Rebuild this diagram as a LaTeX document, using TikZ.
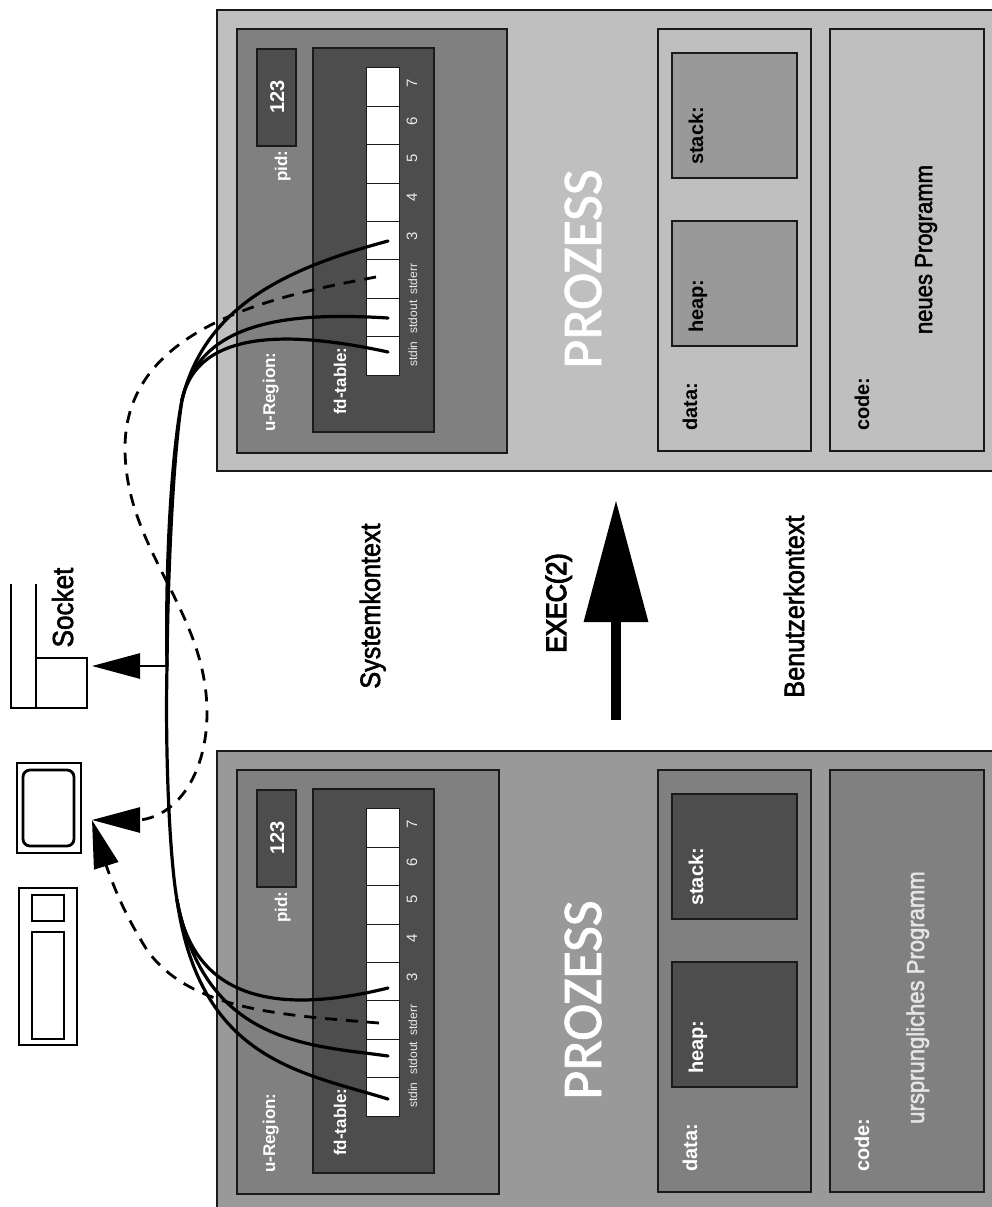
\documentclass[tikz,border=0pt]{standalone}
\usepackage{fontspec}
\setmainfont{Liberation Sans}
\newfontfamily\narrowfont[FakeStretch=0.9,FakeBold=2]{Liberation Sans}
\newfontfamily\execfont[FakeStretch=0.9,FakeBold=4]{Liberation Sans}
\newfontfamily\titlefont[FakeBold=1.5]{Carlito}
\usetikzlibrary{arrows.meta}
\definecolor{gdark}{HTML}{4D4D4D}
\definecolor{gmid}{HTML}{808080}
\definecolor{glight}{HTML}{999999}
\definecolor{gpale}{HTML}{BFBFBF}
\definecolor{gedge}{HTML}{1A1A1A}
\newcommand{\fs}[1]{\fontsize{#1}{#1}\selectfont}
\tikzset{
  pbox/.style={draw=gedge, line width=1.3pt},
  cell/.style={draw=gedge, line width=0.8pt, fill=white, inner sep=0pt, outer sep=0pt, minimum width=33pt, minimum height=38.4pt},
  lab/.style={rotate=90, anchor=base west, inner sep=0pt, font=\fs{20}\bfseries},
  smlab/.style={lab, font=\fs{17}\bfseries, text=white},
  tinylab/.style={rotate=90, anchor=base, inner sep=0pt, font=\fs{12}, text=white!92!black},
  numlab/.style={tinylab, font=\fs{15}},
  biglab/.style={rotate=90, anchor=base, inner sep=0pt, font=\narrowfont\fs{28}},
  ttl/.style={rotate=90, anchor=base, inner sep=0pt, font=\titlefont\fs{56}, text=white},
  cable/.style={line width=3.2pt, line cap=round},
  dcable/.style={line width=2.8pt, dash pattern=on 12pt off 9pt},
  bigtip/.style={-{Triangle[length=48pt,width=25pt]}},
  icon/.style={draw=black, line width=2.8pt},
}
% one process: y shift, prefix, outer, u-region right, data, stack, text, outer bottom
\newcommand{\prozess}[8]{%
  \begin{scope}[shift={(0,#1)}]
    \draw[pbox, fill=#3] (217,10) rectangle (1010,#8);
    \draw[pbox, fill=gmid] (237,29) rectangle (#4,453);
    \draw[pbox, fill=gdark] (257,49) rectangle (296,146);
    \draw[pbox, fill=gdark] (313,48) rectangle (434,432);
    \foreach \i in {0,...,7}
      \node[cell] (#2c\i) at (382.5,{355.8-38.4*\i}) {};
    \node[smlab] (#2reg) at (275,432) {u-Region:};
    \node[smlab] (#2fd) at (346,415) {fd-table:};
    \node[smlab] (#2pid) at (287,182) {pid:};
    \node[rotate=90, anchor=base, inner sep=0pt, font=\fs{20}\bfseries, text=white] (#2num) at (284,97) {123};
    \node[tinylab] (#2in) at (417,354) {stdin};
    \node[tinylab] (#2out) at (417,317) {stdout};
    \node[tinylab] (#2err) at (417,279) {stderr};
    \node[numlab] (#2n3) at (417,236) {3};
    \node[numlab] (#2n4) at (417,197) {4};
    \node[numlab] (#2n5) at (417,158) {5};
    \node[numlab] (#2n6) at (417,121) {6};
    \node[numlab] (#2n7) at (417,83) {7};
    \draw[pbox, fill=#5] (658,29) rectangle (811,451);
    \draw[pbox, fill=#6] (672,53) rectangle (797,178);
    \draw[pbox, fill=#6] (672,221) rectangle (797,346);
    \draw[pbox, fill=#5] (830,29) rectangle (984,451);
    \node[lab, text=#7] (#2data) at (697,431) {data:};
    \node[lab, text=#7] (#2stack) at (703,165) {stack:};
    \node[lab, text=#7] (#2heap) at (703,333) {heap:};
    \node[lab, text=#7] (#2code) at (869,431) {code:};
  \end{scope}}

\begin{document}
\begin{tikzpicture}[x=1pt,y=-1pt]
\useasboundingbox (0,0) rectangle (992,1207);
\clip (0,0) rectangle (992,1207);
\prozess{0}{a}{gpale}{507}{gpale}{glight}{black}{471}
\prozess{741}{b}{glight}{499}{gmid}{gdark}{white}{600}
\node[ttl] (aproz) at (601,269) {PROZESS};
\node[ttl] (bproz) at (601,1000) {PROZESS};
\node[biglab, font=\narrowfont\fs{24.5}] (aprog) at (932,249.5) {neues Programm};
\node[biglab, font=\narrowfont\fs{24.5}, text=white!90!black] (bprog) at (924,997.5) {ursprungliches Programm};
\node[biglab] (syskt) at (380,606) {Systemkontext};
\node[biglab] (benkt) at (804,606.5) {Benutzerkontext};
\node[biglab, font=\execfont\fs{28}] (execl) at (566,603) {EXEC(2)};
\node[biglab, font=\narrowfont\fs{29}] (sockl) at (73,607.5) {Socket};
% exec arrow
\coordinate (execa) at (616,720);
\coordinate (execb) at (616,500);
\draw[line width=10pt, -{Triangle[length=122pt,width=62pt]}] (execa) -- (execb);
% terminal and socket
\draw[icon] (17,763) rectangle (81,853);
\draw[icon, rounded corners=7pt] (23,770) rectangle (74,846);
\draw[icon] (19,888) rectangle (77,1045);
\draw[icon] (32,895) rectangle (64,921);
\draw[icon] (32,932) rectangle (64,1039);
\draw[icon] (11,584) -- (11,708) -- (87,708) -- (87,658) -- (36,658);
\draw[icon] (36,584) -- (36,708);
% cables
\coordinate (trunk) at (167,666);
\coordinate (ajoin) at (182,400);
\coordinate (bjoin) at (177,900);
\coordinate (scktip) at (92,666);
\coordinate (ttytip) at (92,820);
\coordinate (a0end) at (388,352);
\coordinate (a1end) at (388,318);
\coordinate (a2end) at (376,277);
\coordinate (a3end) at (388,241);
\coordinate (b0end) at (388,1099);
\coordinate (b1end) at (388,1056);
\coordinate (b2end) at (379,1023);
\coordinate (b3end) at (388,988);
\draw[cable] (a0end) .. controls (300,333) and (198,325) .. (ajoin);
\draw[cable] (a1end) .. controls (290,312) and (200,320) .. (ajoin);
\draw[cable] (a3end) .. controls (288,268) and (205,305) .. (ajoin);
\draw[cable] (ajoin) .. controls (172,450) and (165,560) .. (trunk);
\draw[cable] (ajoin) .. controls (174,450) and (168,560) .. (trunk);
\draw[cable] (b3end) .. controls (290,1012) and (195,1008) .. (bjoin);
\draw[cable] (b1end) .. controls (310,1045) and (205,1045) .. (bjoin);
\draw[cable] (b0end) .. controls (300,1072) and (200,1060) .. (bjoin);
\draw[cable] (bjoin) .. controls (170,860) and (165,760) .. (trunk);
\draw[bigtip, line width=2.7pt] (trunk) -- (scktip);
\draw[dcable, bigtip] (a2end) .. controls (280,295) and (125,325) .. (125,448)
  .. controls (125,550) and (207,610) .. (207,713)
  .. controls (207,770) and (180,815) .. (140,820) -- (ttytip);
\draw[dcable, bigtip] (b2end) .. controls (280,1015) and (190,1010) .. (147,950)
  .. controls (125,915) and (115,890) .. (106,865) -- (ttytip);
\end{tikzpicture}
\end{document}
